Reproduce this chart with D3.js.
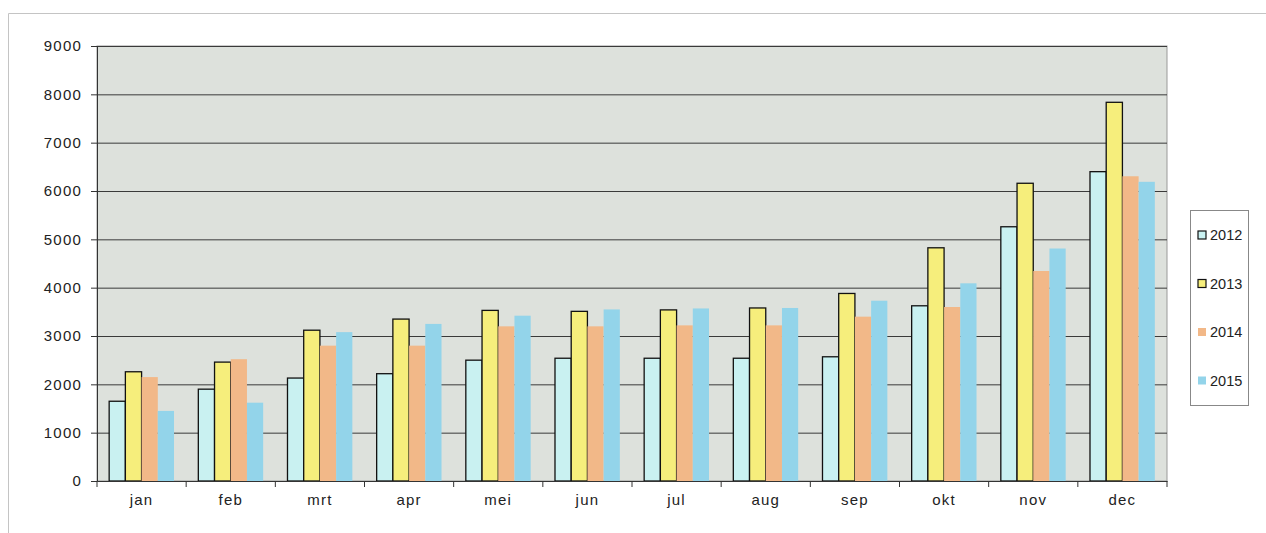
<!DOCTYPE html>
<html><head><meta charset="utf-8">
<script src="https://cdn.jsdelivr.net/npm/d3@7"></script>
<style>body{margin:0;background:#fff;} svg{display:block;font-family:"Liberation Sans",Arial,sans-serif;}</style>
</head><body>
<svg id="c" width="1266" height="533"></svg>
<script>
const months = ["jan","feb","mrt","apr","mei","jun","jul","aug","sep","okt","nov","dec"];
const seriesNames = ["2012","2013","2014","2015"];
const v2012 = [1650,1900,2130,2220,2500,2540,2540,2540,2570,3625,5260,6400];
const v2013 = [2260,2460,3120,3350,3530,3510,3540,3580,3880,4825,6160,7835];
const v2014 = [2150,2520,2800,2800,3200,3200,3220,3220,3400,3600,4345,6305];
const v2015 = [1450,1620,3080,3250,3420,3550,3570,3580,3730,4090,4810,6190];
const yTicks = [0,1000,2000,3000,4000,5000,6000,7000,8000,9000];
const values = [v2012,v2013,v2014,v2015];
const fills = ["#c9f1f1","#f6ee7c","#f2b888","#93d4ea"];
const strokes = ["#111","#111","none","none"];

const svg = d3.select("#c");
// outer chart border (top and left visible)
svg.append("line").attr("x1",8.5).attr("x2",1266).attr("y1",13.5).attr("y2",13.5).attr("stroke","#c4c4c4");
svg.append("line").attr("x1",8.5).attr("x2",8.5).attr("y1",13.5).attr("y2",533).attr("stroke","#c4c4c4");

const L=97, R=1167, T=46, B=481;
const x = d3.scaleBand().domain(months).range([L,R]).paddingInner(0).paddingOuter(0);
const y = d3.scaleLinear().domain([0,9000]).range([B,T]);
const groupPad = 1.5;
const bw = x.bandwidth()/(4+groupPad);

svg.append("rect").attr("x",L).attr("y",T).attr("width",R-L).attr("height",B-T)
  .attr("fill","#dde1dc").attr("stroke","#999").attr("stroke-width",1);

// gridlines
svg.append("g").selectAll("line").data(yTicks.filter(d=>d>0)).join("line")
  .attr("x1",L).attr("x2",R).attr("y1",d=>y(d)+0.5).attr("y2",d=>y(d)+0.5)
  .attr("stroke","#3a3a3a").attr("stroke-width",1);

// bars
const g = svg.append("g");
months.forEach((m,i)=>{
  values.forEach((vals,s)=>{
    const x0 = x(m) + bw*groupPad/2 + s*bw;
    g.append("rect").attr("x",x0).attr("y",y(vals[i])).attr("width",bw).attr("height",B-y(vals[i]))
      .attr("fill",fills[s]).attr("stroke",strokes[s]).attr("stroke-width",1.3);
  });
});

const fontCss = "Liberation Sans, Arial, sans-serif";
// axes
const yAxis = d3.axisLeft(y).tickValues(yTicks).tickFormat(d3.format("d")).tickSize(6).tickPadding(9);
const ya = svg.append("g").attr("transform",`translate(${L},0)`).call(yAxis);
ya.select(".domain").attr("stroke","#333");
ya.selectAll(".tick line").attr("stroke","#333");
ya.selectAll("text").attr("font-size",15).attr("letter-spacing","1.2px").attr("fill","#222").attr("font-family",fontCss);

const xAxis = d3.axisBottom(x).tickSize(0).tickPadding(13);
const xa = svg.append("g").attr("transform",`translate(0,${B})`).call(xAxis);
xa.select(".domain").attr("stroke","#333");
xa.selectAll("text").attr("font-size",15).attr("letter-spacing","1.2px").attr("fill","#222").attr("font-family",fontCss);
// category separator ticks
svg.append("g").selectAll("line").data(months).join("line")
  .attr("x1",d=>x(d)+x.bandwidth()).attr("x2",d=>x(d)+x.bandwidth())
  .attr("y1",B).attr("y2",B+6).attr("stroke","#333");
svg.append("line").attr("x1",L).attr("x2",L).attr("y1",B).attr("y2",B+6).attr("stroke","#333");

// legend
const lg = svg.append("g");
lg.append("rect").attr("x",1190.5).attr("y",210.5).attr("width",58).attr("height",195)
  .attr("fill","#fff").attr("stroke","#888");
seriesNames.forEach((n,s)=>{
  const cy = 235 + s*48.5;
  lg.append("rect").attr("x",1198).attr("y",cy-4).attr("width",8).attr("height",8)
    .attr("fill",fills[s]).attr("stroke",strokes[s]).attr("stroke-width",1.2);
  lg.append("text").attr("x",1210).attr("y",cy+5).attr("font-size",14.5).attr("fill","#222").text(n);
});
</script>
</body></html>
